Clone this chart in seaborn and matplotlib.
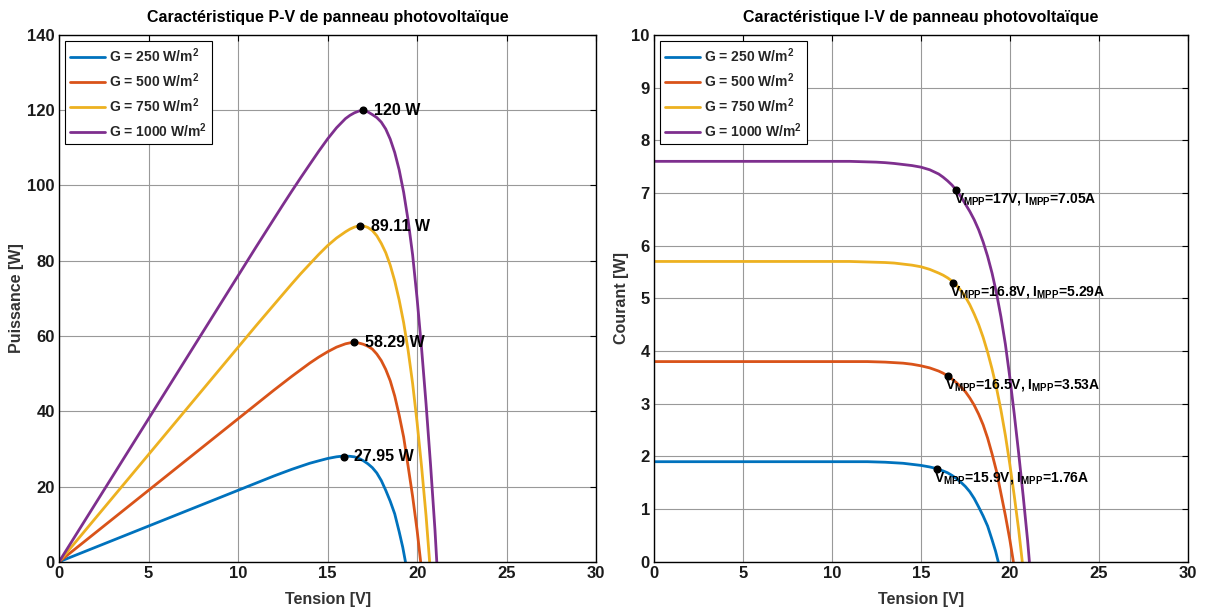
import matplotlib
matplotlib.use("Agg")
import matplotlib.pyplot as plt
import numpy as np
import seaborn as sns

# irradiance levels and legend labels
G_LABELS = ['G = 250 W/m$^2$', 'G = 500 W/m$^2$', 'G = 750 W/m$^2$', 'G = 1000 W/m$^2$']
COLORS = ['#0072BD', '#D95319', '#EDB120', '#7E2F8E']

# I-V points (V in volts, I in amperes)
v_250 = [0, 5, 10, 11, 12, 12.5, 13, 13.5, 14, 14.5, 15, 15.25, 15.5, 15.75, 16, 16.25, 16.5,
         16.75, 17, 17.25, 17.5, 17.75, 18, 18.25, 18.5, 18.75, 19, 19.2, 19.35]
i_250 = [1.9, 1.9, 1.9, 1.9, 1.9, 1.895, 1.89, 1.88, 1.87, 1.85, 1.83, 1.815, 1.8, 1.78, 1.755, 1.725, 1.69,
         1.64, 1.58, 1.51, 1.43, 1.33, 1.2, 1.04, 0.87, 0.68, 0.42, 0.2, 0]

v_500 = [0, 5, 10, 11, 12, 12.5, 13, 13.5, 14, 14.5, 15, 15.5, 16, 16.25, 16.5, 16.75, 17, 17.25,
         17.5, 17.75, 18, 18.25, 18.5, 18.75, 19, 19.25, 19.5, 19.75, 20, 20.2]
i_500 = [3.8, 3.8, 3.8, 3.8, 3.8, 3.795, 3.79, 3.78, 3.77, 3.75, 3.72, 3.68, 3.62, 3.58, 3.53, 3.47, 3.4, 3.32,
         3.23, 3.11, 2.97, 2.8, 2.6, 2.35, 2.05, 1.72, 1.3, 0.88, 0.42, 0]

v_750 = [0, 5, 10, 11, 12, 12.5, 13, 13.5, 14, 14.5, 15, 15.5, 16, 16.25, 16.5, 16.75, 17, 17.25,
         17.5, 17.75, 18, 18.25, 18.5, 18.75, 19, 19.25, 19.5, 19.75, 20, 20.25, 20.5, 20.7]
i_750 = [5.7, 5.7, 5.7, 5.7, 5.69, 5.685, 5.68, 5.67, 5.65, 5.63, 5.6, 5.55, 5.48, 5.44, 5.39, 5.33, 5.25, 5.15,
         5.03, 4.88, 4.7, 4.5, 4.26, 3.98, 3.66, 3.3, 2.88, 2.4, 1.85, 1.25, 0.6, 0]

v_1000 = [0, 5, 10, 11, 12, 12.5, 13, 13.5, 14, 14.5, 15, 15.5, 16, 16.25, 16.5, 16.75, 17, 17.25,
          17.5, 17.75, 18, 18.25, 18.5, 18.75, 19, 19.25, 19.5, 19.75, 20, 20.25, 20.5, 20.75, 21, 21.1]
i_1000 = [7.6, 7.6, 7.6, 7.6, 7.59, 7.585, 7.575, 7.56, 7.54, 7.52, 7.49, 7.44, 7.36, 7.3, 7.23, 7.15, 7.05, 6.93,
          6.79, 6.65, 6.49, 6.3, 6.07, 5.8, 5.48, 5.1, 4.65, 4.13, 3.5, 2.8, 2.05, 1.25, 0.4, 0]

# maximum power points
v_mpp = [15.9, 16.5, 16.8, 17]
i_mpp = [1.76, 3.53, 5.29, 7.05]
p_mpp = [27.95, 58.29, 89.11, 120]
p_labels = ['27.95 W', '58.29 W', '89.11 W', '120 W']

curves_v = [v_250, v_500, v_750, v_1000]
curves_i = [i_250, i_500, i_750, i_1000]

sns.set_theme(style="white")
plt.rcParams['font.family'] = ['Liberation Sans', 'DejaVu Sans']
plt.rcParams['font.weight'] = 'bold'
plt.rcParams['mathtext.fontset'] = 'custom'
plt.rcParams['mathtext.rm'] = 'Liberation Sans:bold'
plt.rcParams['mathtext.bf'] = 'Liberation Sans:bold'
plt.rcParams['mathtext.it'] = 'Liberation Sans:bold'
plt.rcParams['mathtext.default'] = 'bf'

fig = plt.figure(figsize=(12.05, 6.12), dpi=100, facecolor='white')
ax_pv = fig.add_axes([0.049, 0.082, 0.4457, 0.861])
ax_iv = fig.add_axes([0.5427, 0.082, 0.443, 0.861])


def style_axes(ax, ymax, ystep):
    ax.set_xlim(0, 30)
    ax.set_ylim(0, ymax)
    ax.set_xticks(np.arange(0, 31, 5))
    ax.set_yticks(np.arange(0, ymax + ystep / 2, ystep))
    ax.grid(True, color='#999999', linewidth=0.8)
    ax.set_axisbelow(True)
    for s in ax.spines.values():
        s.set_visible(True)
        s.set_color('black')
        s.set_linewidth(1.0)
    ax.tick_params(direction='in', length=4, width=0.8, top=True, right=True,
                   labelsize=12, colors='black', labelcolor='#1a1a1a', pad=3)
    for lab in ax.get_xticklabels() + ax.get_yticklabels():
        lab.set_fontweight('bold')


# P-V characteristic
for v, i, c, lab in zip(curves_v, curves_i, COLORS, G_LABELS):
    p = np.array(v) * np.array(i)
    sns.lineplot(x=v, y=p, color=c, linewidth=2, label=lab, ax=ax_pv,
                 estimator=None, sort=False)
ax_pv.plot(v_mpp, p_mpp, 'o', color='black', markersize=4.8, zorder=5)
for v, p, t in zip(v_mpp, p_mpp, p_labels):
    ax_pv.text(v + 0.6, p, t, ha='left', va='center', fontsize=11.5,
               fontweight='bold', color='black')
style_axes(ax_pv, 140, 20)
ax_pv.set_title('Caractéristique P-V de panneau photovoltaïque', fontsize=11.5,
                fontweight='bold', color='black', pad=9)
ax_pv.set_xlabel('Tension [V]', fontsize=11.5, fontweight='bold', color='#333333', labelpad=8)
ax_pv.set_ylabel('Puissance [W]', fontsize=11.5, fontweight='bold', color='#333333', labelpad=2)

# I-V characteristic
for v, i, c, lab in zip(curves_v, curves_i, COLORS, G_LABELS):
    sns.lineplot(x=v, y=i, color=c, linewidth=2, label=lab, ax=ax_iv,
                 estimator=None, sort=False)
ax_iv.plot(v_mpp, i_mpp, 'o', color='black', markersize=4.8, zorder=5)
for v, i in zip(v_mpp, i_mpp):
    t = 'V$_{MPP}$=%gV, I$_{MPP}$=%gA' % (v, i)
    ax_iv.text(v - 0.15, i - 0.02, t, ha='left', va='top', fontsize=10,
               fontweight='bold', color='black')
style_axes(ax_iv, 10, 1)
ax_iv.set_title('Caractéristique I-V de panneau photovoltaïque', fontsize=11.5,
                fontweight='bold', color='black', pad=9)
ax_iv.set_xlabel('Tension [V]', fontsize=11.5, fontweight='bold', color='#333333', labelpad=8)
ax_iv.set_ylabel('Courant [W]', fontsize=11.5, fontweight='bold', color='#333333', labelpad=2)

for ax in (ax_pv, ax_iv):
    leg = ax.legend(loc='upper left', fontsize=10, frameon=True, fancybox=False,
                    edgecolor='black', framealpha=1, borderaxespad=0.45,
                    handlelength=2.5, handletextpad=0.3, labelspacing=0.46,
                    borderpad=0.35)
    leg.get_frame().set_linewidth(0.8)
    for t in leg.get_texts():
        t.set_fontweight('bold')

fig.savefig('out.png', dpi=100, facecolor='white')
plt.close(fig)
